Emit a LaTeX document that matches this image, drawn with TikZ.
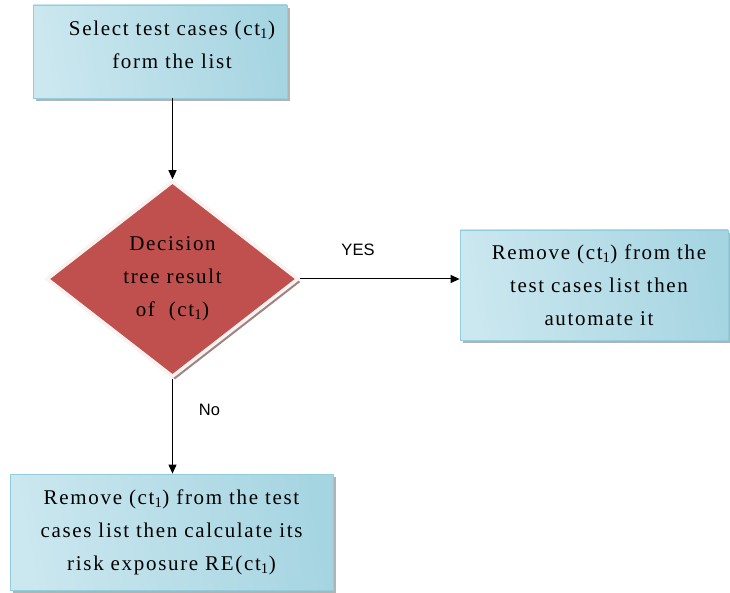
\documentclass[tikz,border=0pt]{standalone}
\usepackage{fontspec}
\setmainfont{Liberation Serif}[LetterSpace=8]
\newfontfamily\labelfont{Liberation Sans}
\usetikzlibrary{shapes.geometric,arrows.meta,shadows}
\definecolor{boxedge}{HTML}{93CDDD}
\definecolor{boxdark}{HTML}{A6D5E2}
\definecolor{boxmid}{HTML}{E6F3F7}
\definecolor{boxlight}{HTML}{CBE7EF}
\definecolor{decfill}{HTML}{C0504D}
\tikzset{
  boxtext/.style={align=center, inner sep=0pt, font=\fontsize{21}{33}\selectfont},
  procbox/.style={rectangle, draw=boxedge, line width=0.8pt,
    left color=boxlight, middle color=boxmid, right color=boxdark, shading angle=100,
    boxtext,
    drop shadow={shadow xshift=3pt, shadow yshift=-3pt, fill=black!50, opacity=0.6}},
  decbox/.style={diamond, draw=white!92!decfill, line width=3.5pt, fill=decfill,
    align=center, inner sep=0pt, aspect=1.29,
    font=\fontsize{21}{33}\selectfont,
    drop shadow={shadow xshift=2.5pt, shadow yshift=-3pt, fill=black!60!decfill, opacity=0.55}},
  flow/.style={draw=black, line width=1pt, -{Triangle[length=9pt,width=8pt]}},
  lbl/.style={font=\labelfont\fontsize{16.5}{18}\selectfont, inner sep=0pt}
}
\begin{document}
\begin{tikzpicture}[x=1pt,y=-1pt]
\useasboundingbox (0,0) rectangle (730,593);
\node[procbox, minimum width=254pt, minimum height=93pt] (sel) at (160,51.5) {};
\node[boxtext] (selt) at (172,44.5)
  {Select test cases (ct\textsubscript{1})\\form the list};
\node[decbox, minimum width=252pt, minimum height=196pt] (dec) at (172.5,279)
  {Decision\\tree result\\of\ \ (ct\textsubscript{1})};
\node[procbox, minimum width=268pt, minimum height=110pt] (auto) at (594,285)
  {\hspace*{10pt}Remove (ct\textsubscript{1}) from the\\\hspace*{10pt}test cases list then\\\hspace*{10pt}automate it};
\node[procbox, minimum width=323pt, minimum height=116pt] (risk) at (171.5,532)
  {Remove (ct\textsubscript{1}) from the test\\cases list then calculate its\\risk exposure RE(ct\textsubscript{1})};
\draw[flow] (sel.south -| dec.north) -- (dec.north);
\draw[flow] (dec.east) -- (auto.west |- dec.east);
\draw[flow] (dec.south) -- (risk.north -| dec.south);
\node[lbl] (yes) at (358,250) {YES};
\node[lbl] (no) at (209.5,410) {No};
\end{tikzpicture}
\end{document}
